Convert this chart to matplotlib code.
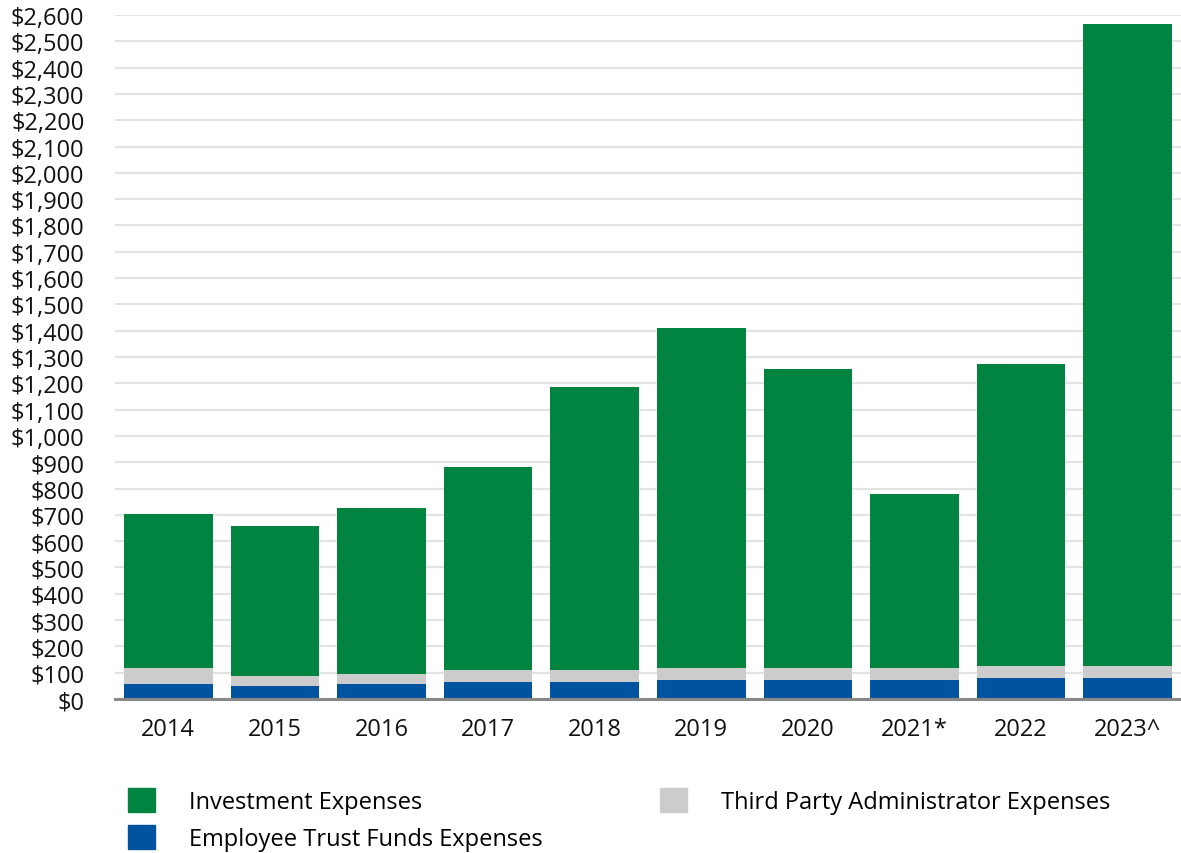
import numpy as np
import matplotlib
matplotlib.use('Agg')
import matplotlib.pyplot as plt
import matplotlib.patches as mpatches
from matplotlib.ticker import FuncFormatter, MultipleLocator

plt.rcParams['font.family'] = ['Open Sans', 'DejaVu Sans']

# ------------------------------------------------------------------
# Data (millions of dollars)
# ------------------------------------------------------------------
anos = ['2014', '2015', '2016', '2017', '2018', '2019', '2020', '2021*', '2022', '2023^']
etf = [56, 49, 56, 64, 64, 72, 72, 72, 79, 79]
tpa = [62, 38, 39, 46, 46, 46, 46, 46, 47, 47]
investimento = [585, 571, 631, 770, 1077, 1293, 1138, 663, 1146, 2441]

cor_inv = '#00843f'
cor_tpa = '#cccccc'
cor_etf = '#00549f'

fig = plt.figure(figsize=(11.81, 8.54), dpi=100)
ax = fig.add_axes([0.0974, 0.1803, 0.9026, 0.8010])

x = np.arange(len(anos))
etf = np.array(etf)
tpa = np.array(tpa)
investimento = np.array(investimento)

largura = 0.83
ax.bar(x, etf, width=largura, color=cor_etf, zorder=3)
ax.bar(x, tpa, width=largura, bottom=etf, color=cor_tpa, zorder=3)
ax.bar(x, investimento, width=largura, bottom=etf + tpa, color=cor_inv, zorder=3)

ax.set_xlim(-0.5, len(anos) - 0.5)
ax.set_ylim(0, 2600)
ax.yaxis.set_major_locator(MultipleLocator(100))
ax.yaxis.set_major_formatter(FuncFormatter(lambda v, p: f'${v:,.0f}'))
ax.set_xticks(x)
ax.set_xticklabels(anos)

ax.grid(axis='y', color='#e3e3e3', linewidth=1.5, zorder=0)
ax.set_axisbelow(True)
for lado in ['left', 'right', 'top']:
    ax.spines[lado].set_visible(False)
ax.spines['bottom'].set_color('#888888')
ax.spines['bottom'].set_linewidth(2.2)
ax.spines['bottom'].set_zorder(4)

ax.tick_params(axis='y', length=0, pad=22, labelsize=17, labelcolor='#111111')
ax.tick_params(axis='x', length=0, pad=13, labelsize=17, labelcolor='#111111')

# Legend
h_inv = mpatches.Patch(color=cor_inv, label='Investment Expenses')
h_etf = mpatches.Patch(color=cor_etf, label='Employee Trust Funds Expenses')
h_tpa = mpatches.Patch(color=cor_tpa, label='Third Party Administrator Expenses')
fig.legend(handles=[h_inv, h_etf, h_tpa], ncol=2, frameon=False,
           loc='upper left', bbox_to_anchor=(0.1043, 0.0815),
           fontsize=17, handlelength=1.15, handleheight=1.2,
           handletextpad=1.45, columnspacing=4.95, labelspacing=0.45,
           borderpad=0.2, borderaxespad=0)

plt.savefig('out.png', dpi=100)
plt.close()
